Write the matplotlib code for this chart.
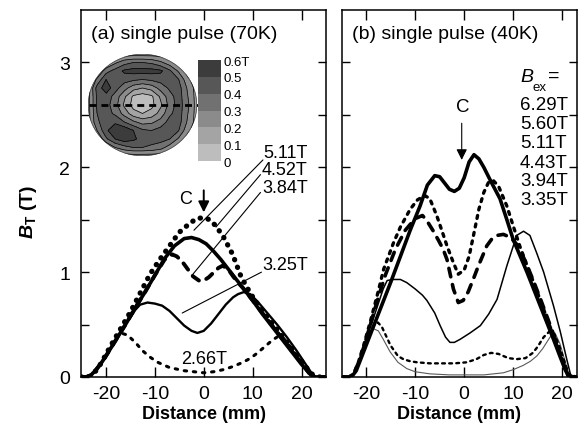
import numpy as np
import matplotlib
matplotlib.use('Agg')
import matplotlib.pyplot as plt
from matplotlib.colors import ListedColormap, BoundaryNorm
from matplotlib.patches import Circle
from matplotlib.ticker import FixedLocator
import matplotlib.colorbar as mcolorbar

plt.rcParams['font.family'] = ['Liberation Sans', 'DejaVu Sans']
plt.rcParams['mathtext.fontset'] = 'custom'
plt.rcParams['mathtext.it'] = 'Liberation Sans:bold:italic'
plt.rcParams['mathtext.rm'] = 'Liberation Sans:bold'
plt.rcParams['mathtext.bf'] = 'Liberation Sans:bold'
plt.rcParams['axes.unicode_minus'] = False

# ---------------- data: panel (a) 70 K ----------------
a_511_x = [-25, -23.5, -22.5, -21, -19, -17, -15, -13, -11, -9, -7, -5, -3, -1.5, 0, 1.2, 2.5, 4.1, 5.9, 7.6,
           9.5, 11.5, 13.5, 15.5, 17.5, 19.5, 21, 22.3, 23.5, 25]
a_511_y = [0, 0, 0.03, 0.13, 0.3, 0.46, 0.62, 0.8, 0.98, 1.12, 1.25, 1.38, 1.46, 1.51, 1.52, 1.5, 1.44, 1.33, 1.17, 0.96,
           0.8, 0.66, 0.54, 0.42, 0.3, 0.18, 0.09, 0.02, 0, 0]

a_452_x = [-25, -24, -23, -22, -21, -20, -18, -16, -14, -12, -10, -8, -6, -4, -2.5, -1, 0.5, 2, 3.5, 5, 6.5, 8,
           10, 12, 14, 16, 18, 20, 21.5, 22.5, 25]
a_452_y = [0, 0, 0.02, 0.07, 0.13, 0.2, 0.35, 0.5, 0.66, 0.81, 0.97, 1.13, 1.25, 1.32, 1.33, 1.31, 1.27, 1.2, 1.12, 1.03,
           0.94, 0.85, 0.73, 0.6, 0.48, 0.36, 0.24, 0.12, 0.04, 0, 0]

a_384_x = [-25, -24, -23, -22, -21, -20, -18, -16, -14, -12, -10, -8, -6.5, -5.5, -4.4, -3.3, -2.2, -1, 0, 1, 2.1, 3,
           3.8, 4.8, 6, 7, 8, 10, 12, 14, 16, 18, 20, 21.5, 22.5, 25]
a_384_y = [0, 0, 0.02, 0.07, 0.13, 0.2, 0.35, 0.5, 0.66, 0.81, 0.97, 1.12, 1.17, 1.15, 1.10, 1.03, 0.96, 0.92, 0.92,
           0.95, 1.0, 1.04, 1.06, 1.04, 0.96, 0.9, 0.85, 0.73, 0.61, 0.49, 0.37, 0.25, 0.13, 0.04, 0, 0]

a_325_x = [-25, -24, -23, -22, -21, -20, -18, -16, -14, -13, -11.5, -10, -8.5, -7, -5.5, -4, -2.5, -1.3, 0, 1.5, 3,
           4.5, 6, 7, 8.2, 9.5, 11, 13, 15, 17, 19, 21, 22.3, 23, 25]
a_325_y = [0, 0, 0.02, 0.07, 0.13, 0.2, 0.35, 0.5, 0.64, 0.69, 0.71, 0.70, 0.68, 0.63, 0.56, 0.49, 0.44, 0.42, 0.44,
           0.51, 0.6, 0.69, 0.76, 0.79, 0.81, 0.79, 0.72, 0.61, 0.5, 0.38, 0.25, 0.11, 0.02, 0, 0]

a_266_x = [-25, -24, -23, -22, -21, -20, -18, -17, -15.6, -14, -12.5, -11, -9.4, -7, -4, -2, 0, 2, 4, 6, 8, 9.6, 11,
           12.5, 14, 15.3, 16.3, 17.5, 19, 20.5, 22, 23, 25]
a_266_y = [0, 0, 0.02, 0.07, 0.13, 0.2, 0.35, 0.42, 0.40, 0.33, 0.25, 0.19, 0.14, 0.09, 0.06, 0.05, 0.04, 0.05, 0.07,
           0.1, 0.14, 0.18, 0.23, 0.29, 0.35, 0.39, 0.37, 0.3, 0.2, 0.12, 0.03, 0, 0]

a_labels = ['5.11T', '4.52T', '3.84T', '3.25T', '2.66T']

# ---------------- data: panel (b) 40 K ----------------
b_629_x = [-25, -23.5, -22.8, -22, -21, -19, -17, -15, -13, -11, -9, -7.5, -6, -5, -4, -3, -2, -1, 0, 1, 2, 3, 4,
           5.5, 7.3, 8.7, 10, 12.8, 15.5, 18.2, 19.5, 20.5, 21.3, 23]
b_629_y = [0, 0, 0.01, 0.06, 0.18, 0.42, 0.66, 0.9, 1.15, 1.4, 1.63, 1.83, 1.92, 1.91, 1.85, 1.79, 1.77, 1.8, 1.9,
           2.05, 2.12, 2.08, 2.0, 1.86, 1.70, 1.5, 1.31, 1.0, 0.68, 0.36, 0.2, 0.08, 0, 0]

b_560_x = [-25, -23.5, -22.5, -21.5, -20.5, -19, -17.5, -16.4, -14.4, -13, -11, -9.5, -8, -7, -5.6, -4.5, -3.5, -2.2,
           -1.2, 0, 1, 1.9, 3, 4, 5, 6, 7, 8.7, 10, 11.4, 13, 14.5, 16, 17.5, 19, 20.3, 21.3, 23]
b_560_y = [0, 0, 0.03, 0.15, 0.3, 0.55, 0.82, 1.03, 1.28, 1.43, 1.6, 1.69, 1.73, 1.70, 1.54, 1.39, 1.25, 1.09, 0.98,
           1.02, 1.15, 1.35, 1.6, 1.76, 1.86, 1.87, 1.82, 1.63, 1.44, 1.24, 1.04, 0.86, 0.67, 0.48, 0.29, 0.12, 0.01, 0]

b_511_x = [-25, -23.5, -22.6, -21.5, -20.5, -19, -17.5, -16, -14, -12, -10, -8.5, -7.6, -6.4, -5.2, -4.3, -3.5, -2.2,
           -1.2, -0.2, 0.8, 2, 2.9, 3.8, 4.6, 5.7, 6.7, 8, 9.5, 11, 12.5, 14, 15.5, 17, 18.5, 19.7, 20.8, 21.6, 23]
b_511_y = [0, 0, 0.02, 0.14, 0.28, 0.52, 0.76, 0.98, 1.22, 1.4, 1.51, 1.54, 1.49, 1.40, 1.30, 1.22, 1.12, 0.84, 0.71,
           0.73, 0.81, 0.95, 1.06, 1.16, 1.25, 1.32, 1.35, 1.36, 1.33, 1.25, 1.1, 0.93, 0.75, 0.56, 0.37, 0.2, 0.05, 0, 0]

b_443_x = [-25, -23.5, -22.6, -21.5, -20.5, -19.5, -18.5, -17.5, -16.5, -15.7, -14.5, -13, -11.7, -10, -8.5, -7.6, -6,
           -4.9, -3.8, -2.9, -2, -0.8, 1.2, 3.3, 5, 6.7, 8.7, 10.7, 12.1, 13.4, 14.8, 16.2, 18.2, 19.6, 20.9, 21.8, 23]
b_443_y = [0, 0, 0.02, 0.14, 0.28, 0.42, 0.56, 0.70, 0.84, 0.92, 0.93, 0.93, 0.90, 0.84, 0.78, 0.73, 0.61, 0.49, 0.38,
           0.33, 0.33, 0.36, 0.42, 0.49, 0.6, 0.74, 1.06, 1.35, 1.39, 1.35, 1.18, 1.0, 0.68, 0.43, 0.17, 0, 0]

b_394_x = [-25, -23.5, -22.6, -21.5, -20.5, -19.5, -18.5, -17.6, -16.8, -16, -15, -13.5, -12.4, -11, -9.6, -7, -4.9,
           -2, 0.5, 2.5, 4, 5.5, 7, 9, 10.7, 12.5, 14, 15, 16.2, 17.5, 18.5, 19.5, 20.5, 21.3, 23]
b_394_y = [0, 0, 0.02, 0.14, 0.28, 0.40, 0.49, 0.52, 0.48, 0.40, 0.30, 0.2, 0.17, 0.15, 0.14, 0.13, 0.13, 0.13, 0.14,
           0.17, 0.21, 0.23, 0.22, 0.18, 0.17, 0.18, 0.23, 0.29, 0.38, 0.44, 0.40, 0.28, 0.14, 0.03, 0]

b_335_x = [-25, -23.5, -22.6, -21.5, -20.5, -19.5, -18.5, -17.5, -16.5, -15.1, -13.5, -11.7, -10, -7, -3, 0, 4, 8, 10,
           12, 13.5, 14.8, 16, 17.5, 18.5, 19.5, 20.5, 21.3, 23]
b_335_y = [0, 0, 0.02, 0.13, 0.27, 0.39, 0.46, 0.44, 0.36, 0.24, 0.14, 0.08, 0.05, 0.03, 0.02, 0.02, 0.02, 0.04, 0.07,
           0.11, 0.15, 0.2, 0.27, 0.38, 0.42, 0.32, 0.16, 0.03, 0]

b_labels = ['6.29T', '5.60T', '5.11T', '4.43T', '3.94T', '3.35T']

# ---------------- data: inset field map (T) ----------------
map_levels = [0, 0.1, 0.2, 0.3, 0.4, 0.5, 0.6]
map_level_labels = ['0', '0.1', '0.2', '0.3', '0.4', '0.5', '0.6T']
map_colors = ['#bdbdbd', '#a4a4a4', '#8b8b8b', '#717171', '#575757', '#3c3c3c']
map_z = [  # rows from bottom (y=-1) to top (y=+1)
    [0.15, 0.15, 0.15, 0.15, 0.15, 0.15, 0.15, 0.15, 0.15, 0.15, 0.15, 0.15, 0.15],
    [0.15, 0.15, 0.18, 0.30, 0.36, 0.40, 0.40, 0.38, 0.34, 0.25, 0.16, 0.15, 0.15],
    [0.15, 0.18, 0.38, 0.50, 0.56, 0.52, 0.46, 0.44, 0.44, 0.40, 0.28, 0.16, 0.15],
    [0.15, 0.30, 0.48, 0.58, 0.58, 0.50, 0.42, 0.40, 0.44, 0.46, 0.40, 0.22, 0.15],
    [0.15, 0.38, 0.46, 0.48, 0.40, 0.32, 0.26, 0.28, 0.34, 0.44, 0.44, 0.28, 0.15],
    [0.15, 0.40, 0.44, 0.38, 0.26, 0.14, 0.10, 0.14, 0.24, 0.38, 0.45, 0.30, 0.15],
    [0.15, 0.42, 0.44, 0.34, 0.18, 0.06, 0.05, 0.07, 0.18, 0.34, 0.45, 0.32, 0.15],
    [0.15, 0.42, 0.46, 0.36, 0.22, 0.08, 0.05, 0.08, 0.22, 0.36, 0.45, 0.30, 0.15],
    [0.15, 0.44, 0.56, 0.44, 0.34, 0.24, 0.20, 0.24, 0.34, 0.42, 0.44, 0.28, 0.15],
    [0.15, 0.32, 0.50, 0.46, 0.44, 0.42, 0.40, 0.42, 0.44, 0.46, 0.40, 0.22, 0.15],
    [0.15, 0.18, 0.36, 0.44, 0.52, 0.54, 0.54, 0.54, 0.52, 0.42, 0.28, 0.16, 0.15],
    [0.15, 0.15, 0.18, 0.28, 0.36, 0.40, 0.40, 0.38, 0.32, 0.24, 0.16, 0.15, 0.15],
    [0.15, 0.15, 0.15, 0.15, 0.15, 0.15, 0.15, 0.15, 0.15, 0.15, 0.15, 0.15, 0.15],
]
scan_y = 0.0

# ---------------- figure ----------------
fig = plt.figure(figsize=(5.87, 4.31), dpi=100)
ax1 = fig.add_axes([0.1388, 0.1230, 0.4166, 0.8515])
ax2 = fig.add_axes([0.5818, 0.1230, 0.4012, 0.8515])

TICK_FS = 14
LAB_FS = 13

for ax, xl in ((ax1, (-25, 25)), (ax2, (-25, 23))):
    ax.set_xlim(*xl)
    ax.set_ylim(0, 3.5)
    ax.xaxis.set_major_locator(FixedLocator([-20, -10, 0, 10, 20]))
    ax.yaxis.set_major_locator(FixedLocator([0, 1, 2, 3]))
    ax.yaxis.set_minor_locator(FixedLocator([0.5, 1.5, 2.5]))
    ax.tick_params(which='both', direction='in', top=True, right=True, width=1.0, labelsize=TICK_FS)
    ax.tick_params(axis='x', length=7, pad=6)
    ax.tick_params(axis='y', which='both', length=6, pad=8)
    for s in ax.spines.values():
        s.set_linewidth(1.1)
    ax.set_xlabel('Distance (mm)', fontsize=13, fontweight='bold', labelpad=2)

ax2.tick_params(labelleft=False)
ax1.set_yticklabels(['0', '1', '2', '3'])

fig.text(0.049, 0.508, r'$B_{\mathrm{T}}$ (T)', rotation=90, ha='center', va='center',
         fontsize=14, fontweight='bold')

# ---- panel (a) curves
kw_round = dict(solid_capstyle='round', solid_joinstyle='round', dash_capstyle='round')
ax1.plot(a_452_x, a_452_y, color='k', lw=2.6, zorder=3, **kw_round)
ax1.plot(a_325_x, a_325_y, color='k', lw=1.7, zorder=3, **kw_round)
ax1.plot(a_384_x, a_384_y, color='k', lw=2.8, ls=(0, (2.0, 2.0)), zorder=4, **kw_round)
ax1.plot(a_266_x, a_266_y, color='k', lw=2.2, ls=(0, (0.8, 2.2)), zorder=4, **kw_round)
ax1.plot(a_511_x, a_511_y, color='k', lw=3.8, ls=(0, (0.05, 1.5)), zorder=5, **kw_round)

ax1.text(0.039, 0.937, '(a) single pulse (70K)', transform=ax1.transAxes, fontsize=14,
         ha='left', va='center')

# labels with leader lines (panel a)
lab_pos_a = [(12.2, 2.14), (11.9, 1.98), (11.9, 1.81), (12.0, 1.07)]
lead_end_a = [(-2.0, 1.40), (2.5, 1.43), (-2.4, 0.97), (-4.4, 0.61)]
lead_start_a = [(12.1, 2.07), (11.6, 1.93), (11.6, 1.76), (11.8, 1.00)]
for lab, p, s, e in zip(a_labels[:4], lab_pos_a, lead_start_a, lead_end_a):
    ax1.text(p[0], p[1], lab, fontsize=LAB_FS, ha='left', va='center', zorder=6)
    ax1.annotate('', xy=e, xytext=s, arrowprops=dict(arrowstyle='-', lw=0.8, color='k',
                                                     shrinkA=0, shrinkB=0), zorder=6)
ax1.text(0.0, 0.18, a_labels[4], fontsize=LAB_FS, ha='center', va='center', zorder=6)

ax1.text(-3.7, 1.70, 'C', fontsize=13, ha='center', va='center')
ax1.annotate('', xy=(0, 1.57), xytext=(0, 1.78),
             arrowprops=dict(arrowstyle='-|>', lw=1.4, color='k', mutation_scale=16,
                             shrinkA=0, shrinkB=0))

# ---- panel (b) curves
ax2.plot(b_335_x, b_335_y, color='0.35', lw=0.8, zorder=3, **kw_round)
ax2.plot(b_443_x, b_443_y, color='k', lw=1.1, zorder=3, **kw_round)
ax2.plot(b_394_x, b_394_y, color='k', lw=1.7, ls=(0, (1.2, 1.8)), zorder=3, **kw_round)
ax2.plot(b_511_x, b_511_y, color='k', lw=2.6, ls=(0, (2.4, 2.2)), zorder=4, **kw_round)
ax2.plot(b_560_x, b_560_y, color='k', lw=2.4, ls=(0, (0.9, 1.7)), zorder=4, **kw_round)
ax2.plot(b_629_x, b_629_y, color='k', lw=2.6, zorder=5, **kw_round)

ax2.text(0.045, 0.937, '(b) single pulse (40K)', transform=ax2.transAxes, fontsize=14,
         ha='left', va='center')

ax2.text(11.4, 2.87, 'B', fontsize=14, style='italic', ha='left', va='center')
ax2.text(14.0, 2.765, 'ex', fontsize=9.5, ha='left', va='center')
ax2.text(17.0, 2.88, '=', fontsize=14, ha='left', va='center')
b_lab_y = [2.60, 2.42, 2.24, 2.05, 1.87, 1.69]
for lab, yy in zip(b_labels, b_lab_y):
    ax2.text(11.4, yy, lab, fontsize=13.5, ha='left', va='center')

ax2.text(-0.2, 2.58, 'C', fontsize=13.5, ha='center', va='center')
ax2.annotate('', xy=(-0.5, 2.07), xytext=(-0.5, 2.42),
             arrowprops=dict(arrowstyle='-|>', lw=0.8, color='k', mutation_scale=16,
                             shrinkA=0, shrinkB=0))

# ---- inset map
axm = fig.add_axes([0.1499, 0.6357, 0.1857, 0.2367])
gx = np.linspace(-1, 1, len(map_z[0]))
gy = np.linspace(-1, 1, len(map_z))
Z = np.array(map_z)
cmap = ListedColormap(map_colors)
norm = BoundaryNorm(map_levels, cmap.N)
cf = axm.contourf(gx, gy, Z, levels=map_levels, cmap=cmap, norm=norm)
cl = axm.contour(gx, gy, Z, levels=map_levels[1:-1], colors='k', linewidths=0.5)
clip = Circle((0, 0), 1.0, transform=axm.transData)
cf.set_clip_path(clip)
cl.set_clip_path(clip)
axm.add_patch(Circle((0, 0), 0.995, fill=False, lw=0.6, ec='0.3'))
axm.axhline(scan_y, xmin=0.01, xmax=1.01, color='k', lw=2.0, ls=(0, (2.5, 1.8)), clip_on=False)
axm.set_xlim(-1, 1)
axm.set_ylim(-1, 1)
axm.axis('off')

cax = fig.add_axes([0.3373, 0.6241, 0.0392, 0.2343])
cb = mcolorbar.ColorbarBase(cax, cmap=cmap, norm=norm, boundaries=map_levels, ticks=map_levels)
cb.outline.set_visible(False)
cb.ax.set_yticklabels(map_level_labels)
cb.ax.tick_params(length=0, pad=1.5, labelsize=9.5)

fig.savefig('out.png', dpi=100)
